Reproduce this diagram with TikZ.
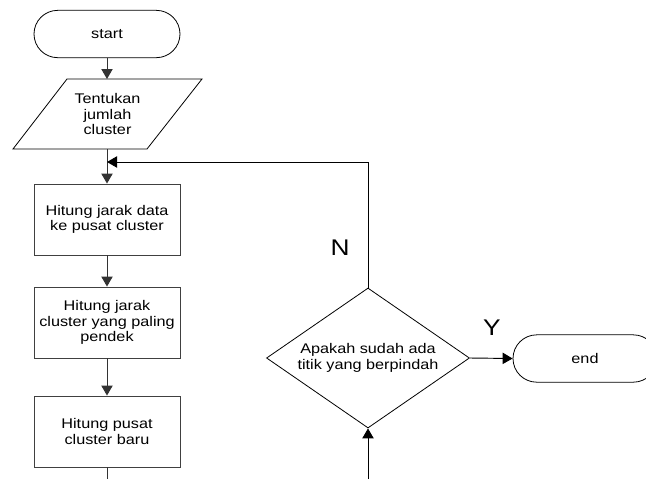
\documentclass[tikz,border=0pt]{standalone}
\usepackage{fontspec}
\setmainfont{Liberation Sans}[FakeStretch=1.16]
\usetikzlibrary{shapes.geometric,shapes.misc,arrows.meta}
\begin{document}
\begin{tikzpicture}[x=0.75pt,y=-0.75pt,
  every node/.style={font=\fontsize{10.5pt}{11.6pt}\selectfont, align=center, inner sep=0pt},
  term/.style={draw, rounded rectangle, minimum width=108pt, minimum height=35.5pt, line width=0.6pt},
  procbox/.style={draw=black!75, rectangle, minimum width=109.5pt, minimum height=53.25pt, line width=0.7pt},
  decision/.style={draw, diamond, aspect=1.45, minimum width=152.25pt, minimum height=105pt, line width=0.6pt},
  conn/.style={line width=0.7pt, draw=black!80},
  arr/.style={conn, -{Triangle[length=7.5pt,width=8.5pt]}},
  biglabel/.style={font=\fontsize{17pt}{20pt}\selectfont}
]
\useasboundingbox (0,0) rectangle (646,479);

\node[term, minimum width=109.5pt] (start) at (107,34) {start};
\node[minimum width=101pt, minimum height=52.5pt] (para) at (107.5,114) {Tentukan\\jumlah\\cluster};
\draw[line width=0.6pt] (67,79) -- (202,79) -- (147,149) -- (13,149) -- cycle;
\node[procbox] (b1) at (107,219.5) {Hitung jarak data\\ke pusat cluster};
\node[procbox] (b2) at (107,322.5) {Hitung jarak\\cluster yang paling\\pendek};
\node[procbox] (b3) at (107,431.5) {Hitung pusat\\cluster baru};
\node[decision] (dia) at (368,358) {Apakah sudah ada\\titik yang berpindah};
\node[term] (end) at (585,358.5) {end};

\coordinate (join) at (107,162);
\coordinate (b3out) at (107,479);
\coordinate (diain) at (368,479);

\draw[arr] (start.south) -- (107,79);
\draw[arr] (107,149) -- (b1.north);
\draw[line width=0.7pt, -{Triangle[length=7.5pt,width=8.5pt]}] (dia.north) |- (join);
\draw[arr] (b1.south) -- (b2.north);
\draw[arr] (b2.south) -- (b3.north);
\draw[conn] (b3.south) -- (b3out);
\draw[line width=0.7pt, -{Triangle[length=7.5pt,width=8.5pt]}] (diain) -- (dia.south);
\draw[line width=0.7pt, -{Triangle[length=7.5pt,width=8.5pt]}] (dia.east) -- (end.west);

\node[biglabel] (nlab) at (340,248) {N};
\node[biglabel] (ylab) at (492,328) {Y};
\end{tikzpicture}
\end{document}
